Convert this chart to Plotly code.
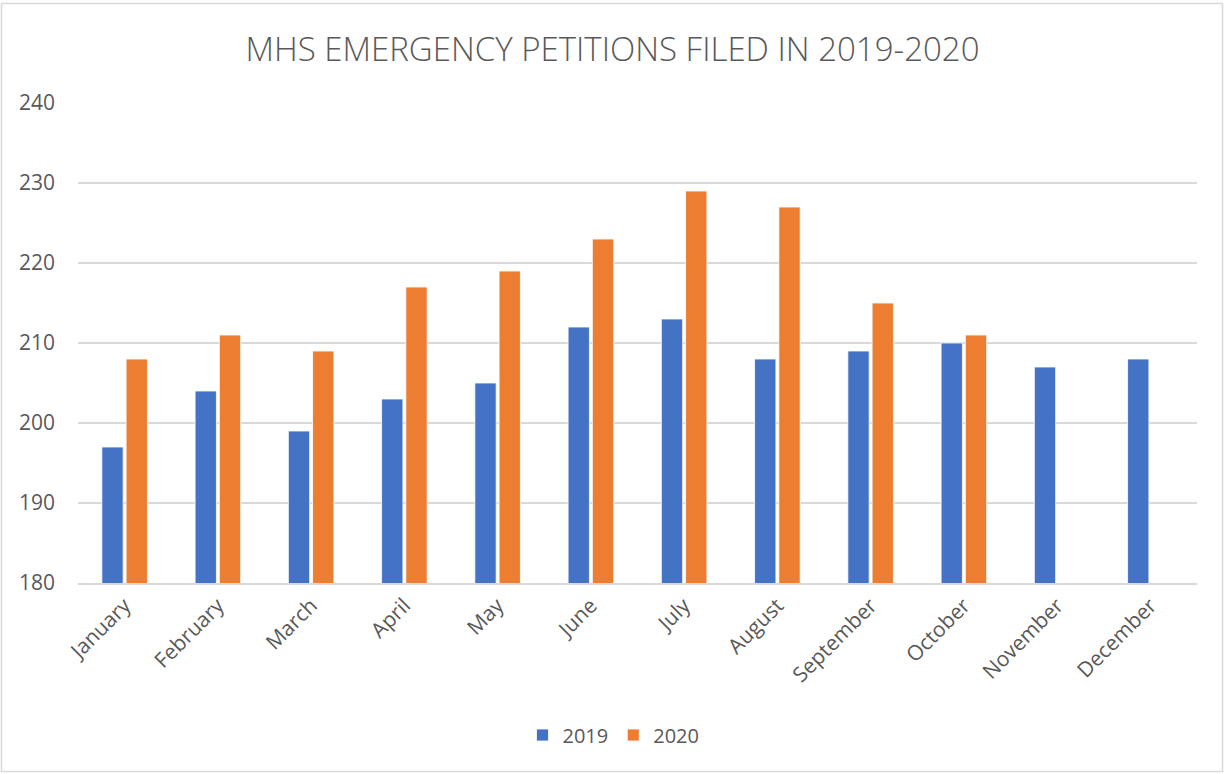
import plotly.graph_objects as go

months = ["January", "February", "March", "April", "May", "June", "July",
          "August", "September", "October", "November", "December"]
petitions_2019 = [197, 204, 199, 203, 205, 212, 213, 208, 209, 210, 207, 208]
petitions_2020 = [208, 211, 209, 217, 219, 223, 229, 227, 215, 211, None, None]

W, H = 1225, 774
ML, MR, MT, MB = 78, 28, 103, 191
pw, ph = W - ML - MR, H - MT - MB

text_gray = "#595959"
grid_gray = "#d9d9d9"
font_family = "Open Sans, Liberation Sans, sans-serif"

fig = go.Figure()
fig.add_trace(go.Bar(x=months, y=petitions_2019, name="2019",
                     marker=dict(color="#4472c4", line=dict(color="#ffffff", width=0.8))))
fig.add_trace(go.Bar(x=months, y=petitions_2020, name="2020",
                     marker=dict(color="#ed7d31", line=dict(color="#ffffff", width=0.8))))

fig.update_layout(
    width=W, height=H,
    margin=dict(l=ML, r=MR, t=MT, b=MB),
    paper_bgcolor="white", plot_bgcolor="white",
    barmode="group", bargap=0.48, bargroupgap=0.12,
    title=dict(text="MHS EMERGENCY PETITIONS FILED IN 2019-2020",
               x=0.5, xanchor="center", y=1 - 49 / H, yanchor="middle",
               font=dict(family=font_family, size=33, color=text_gray, weight=300)),
    font=dict(family=font_family, color=text_gray),
    legend=dict(orientation="h", x=0.5 - 24 / pw, xanchor="center",
                y=-(735 - MT - ph) / ph, yanchor="middle",
                font=dict(size=20, color=text_gray), itemwidth=30,
                traceorder="normal"),
    showlegend=True,
)

fig.update_yaxes(range=[180, 240], dtick=10, tick0=180,
                 showgrid=True, gridcolor=grid_gray, gridwidth=1.5,
                 zeroline=False, showline=False, ticks="",
                 tickfont=dict(size=21, color=text_gray),
                 ticklabelstandoff=22)
fig.update_xaxes(showline=True, linecolor=grid_gray, linewidth=2,
                 ticks="", tickangle=-45,
                 tickfont=dict(size=21, color=text_gray))

# outer chart border
fig.add_shape(type="rect", xref="paper", yref="paper",
              x0=-(ML - 1.5) / pw, x1=1 + (MR - 2.5) / pw,
              y0=-(MB - 2.5) / ph, y1=1 + (MT - 3.5) / ph,
              line=dict(color="#d9d9d9", width=1.5), layer="below")

fig.write_html("out.html")
